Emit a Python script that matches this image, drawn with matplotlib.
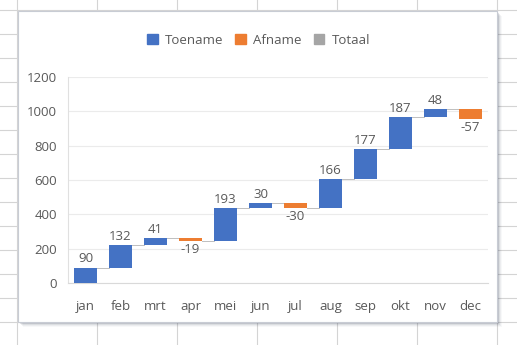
import matplotlib.pyplot as plt
import matplotlib.patches as mpatches
from matplotlib.lines import Line2D
import numpy as np

maanden = ['jan', 'feb', 'mrt', 'apr', 'mei', 'jun', 'jul', 'aug', 'sep', 'okt', 'nov', 'dec']
mutaties = [90, 132, 41, -19, 193, 30, -30, 166, 177, 187, 48, -57]

blauw = '#4472C4'
oranje = '#ED7D31'
grijs = '#A5A5A5'
tekst = '#595959'

plt.rcParams['font.family'] = ['Open Sans', 'DejaVu Sans']

fig = plt.figure(figsize=(5.17, 3.45), dpi=100)
W, H = 517, 345

# spreadsheet-raster op de achtergrond
for x in [17, 97, 177, 257, 337, 417, 497]:
    fig.add_artist(Line2D([x / W, x / W], [0, 1], color='#D4D4D4', lw=0.8, zorder=-5))
for y in range(10, H, 24):
    fig.add_artist(Line2D([0, 1], [1 - y / H, 1 - y / H], color='#D4D4D4', lw=0.8, zorder=-5))

# grafiekvlak met schaduw
x0, y0, x1, y1 = 18, 11, 497, 322
for i, a in enumerate([0.16, 0.12, 0.08, 0.05, 0.03]):
    d = 1 + i
    fig.add_artist(mpatches.Rectangle(((x0 + d) / W, 1 - (y1 + d) / H), (x1 - x0) / W, (y1 - y0) / H,
                                      facecolor='#1F2A44', alpha=a, edgecolor='none', zorder=-4))
fig.add_artist(mpatches.Rectangle((x0 / W, 1 - y1 / H), (x1 - x0) / W, (y1 - y0) / H,
                                  facecolor='white', edgecolor='#C8CCD4', lw=0.8, zorder=-3))

ax = fig.add_axes([68 / W, 1 - 283 / H, (488 - 68) / W, (283 - 77) / H])
ax.set_facecolor('none')

waarden = np.array(mutaties)
eind = np.cumsum(waarden)
begin = eind - waarden
kleuren = [blauw if v >= 0 else oranje for v in waarden]
xpos = np.arange(len(maanden))

ax.bar(xpos, waarden, bottom=begin, width=0.63, color=kleuren, zorder=3)

# verbindingslijnen tussen de kolommen
for i in range(len(maanden) - 1):
    ax.plot([i + 0.315, i + 1 - 0.315], [eind[i], eind[i]], color='#BFBFBF', lw=0.7, zorder=2)

for i, v in enumerate(waarden):
    if v >= 0:
        ax.text(i, eind[i] + 12, str(v), ha='center', va='bottom', fontsize=9.5, color=tekst)
    else:
        ax.text(i, eind[i] - 12, str(v), ha='center', va='top', fontsize=9.5, color=tekst)

ax.set_xlim(-0.5, 11.5)
ax.set_ylim(0, 1200)
ax.set_yticks(range(0, 1201, 200))
ax.set_xticks(xpos)
ax.set_xticklabels(maanden)
ax.grid(axis='y', color='#EBEBEB', lw=0.8, zorder=0)
ax.tick_params(length=0, labelsize=9.5, colors=tekst)
ax.tick_params(axis='x', pad=12)
ax.tick_params(axis='y', pad=8)
for s in ['top', 'right']:
    ax.spines[s].set_visible(False)
ax.spines['left'].set_color('#E0E0E0')
ax.spines['bottom'].set_color('#D9D9D9')

handles = [mpatches.Patch(color=blauw, label='Toename'),
           mpatches.Patch(color=oranje, label='Afname'),
           mpatches.Patch(color=grijs, label='Totaal')]
fig.legend(handles=handles, loc='center', bbox_to_anchor=(0.5, 1 - 40 / H), ncol=3, frameon=False,
           fontsize=9.5, labelcolor=tekst, handlelength=0.8, handleheight=0.8, handletextpad=0.55,
           columnspacing=0.9)

fig.savefig('out.png', dpi=100)
